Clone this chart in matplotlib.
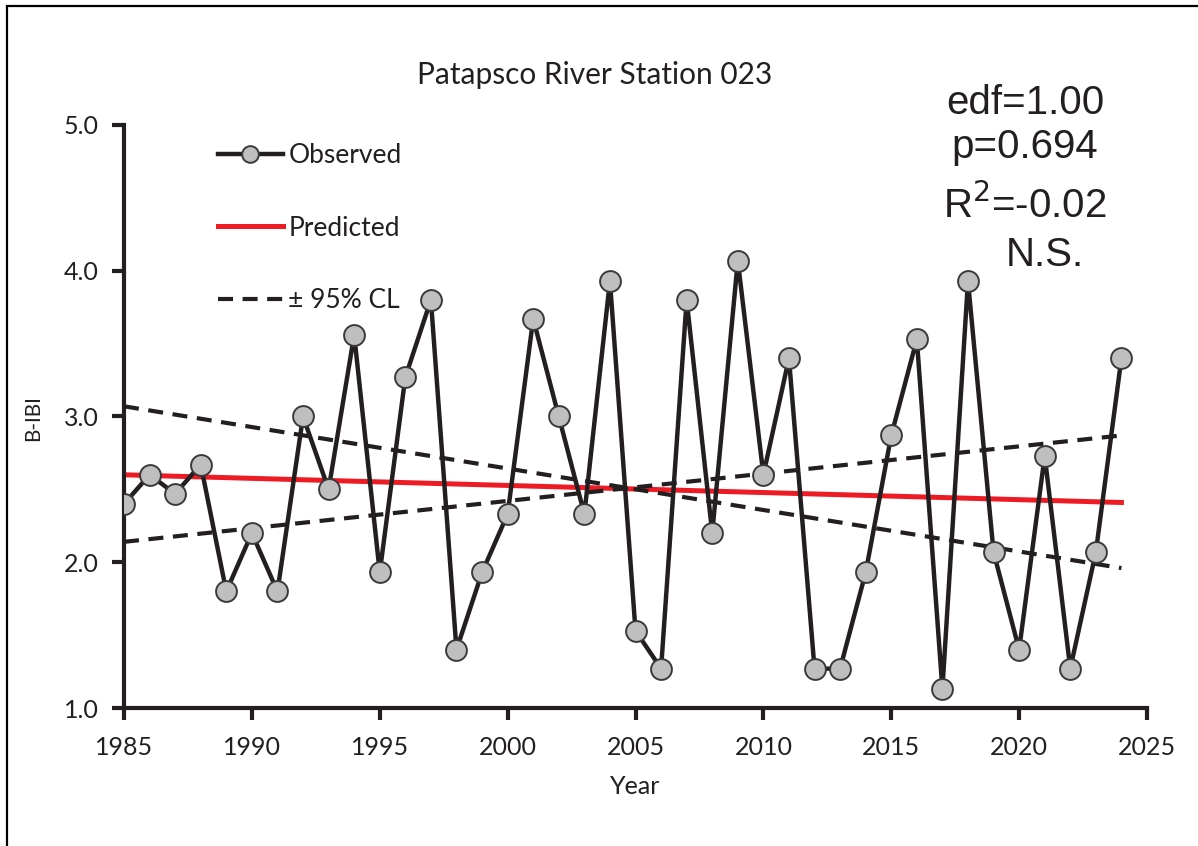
import matplotlib.pyplot as plt
from matplotlib.lines import Line2D
from matplotlib.patches import Rectangle

# B-IBI scores by sampling year
years = list(range(1985, 2025))
bibi = [2.40, 2.60, 2.47, 2.67, 1.80, 2.20, 1.80, 3.00, 2.50, 3.56,
        1.93, 3.27, 3.80, 1.40, 1.93, 2.33, 3.67, 3.00, 2.33, 3.93,
        1.53, 1.27, 3.80, 2.20, 4.07, 2.60, 3.40, 1.27, 1.27, 1.93,
        2.87, 3.53, 1.13, 3.93, 2.07, 1.40, 2.73, 1.27, 2.07, 3.40]

# fitted trend and confidence limits (end points)
fit_years = [1985, 2024]
predicted = [2.60, 2.41]
cl_upper = [3.07, 1.96]
cl_lower = [2.14, 2.87]

stats_lines = ["edf=1.00", "p=0.694", "R$^{2}$=-0.02", "N.S."]

label_font = "Lato"
stat_font = "Liberation Sans"
ink = "#231f20"
dash = (0, (3.6, 2.3))

fig = plt.figure(figsize=(11.98, 8.46), dpi=100)
ax = fig.add_axes([124 / 1198, 1 - 708 / 846, (1147 - 124) / 1198, (708 - 125) / 846])

ax.plot(years, bibi, color=ink, lw=3.2, zorder=3, solid_joinstyle="miter",
        marker="o", ms=15, mfc="#bfbfbf", mec="#3a3a3a", mew=1.4)
ax.plot(fit_years, predicted, color="#ed1c24", lw=3.6, zorder=2)
ax.plot(fit_years, cl_upper, color=ink, lw=3.0, ls=dash, zorder=2)
ax.plot(fit_years, cl_lower, color=ink, lw=3.0, ls=dash, zorder=2)

ax.set_xlim(1985, 2025)
ax.set_ylim(1.0, 5.0)
ax.set_xticks(range(1985, 2026, 5))
ax.set_yticks([1.0, 2.0, 3.0, 4.0, 5.0])
ax.set_yticklabels([f"{v:.1f}" for v in ax.get_yticks()])
for s in ["top", "right"]:
    ax.spines[s].set_visible(False)
for s in ["left", "bottom"]:
    ax.spines[s].set_linewidth(3.0)
    ax.spines[s].set_color(ink)
    ax.spines[s].set_capstyle("projecting")
ax.tick_params(direction="out", length=8.5, width=3.0, color=ink,
               labelsize=18, labelcolor=ink)
ax.tick_params(axis="x", pad=12)
ax.tick_params(axis="y", pad=9.5)
for lab in ax.get_xticklabels() + ax.get_yticklabels():
    lab.set_family(label_font)

ax.set_xlabel("Year", family=label_font, fontsize=18, color=ink, labelpad=11)
fig.text(33 / 1198, 1 - 418 / 846, "B-IBI", rotation=90, ha="center", va="center",
         family=label_font, fontsize=15, color=ink)
fig.text(595 / 1198, 1 - 75 / 846, "Patapsco River Station 023", ha="center", va="center",
         family=label_font, fontsize=21.5, color=ink)

# legend in the upper left of the plot
handles = [
    Line2D([], [], color=ink, lw=3.2, marker="o", ms=12, mfc="#bfbfbf", mec="#3a3a3a", mew=1.4),
    Line2D([], [], color="#ed1c24", lw=3.6),
    Line2D([], [], color=ink, lw=3.0, ls=dash),
]
leg = ax.legend(handles, ["Observed", "Predicted", "\u00b1 95% CL"], loc="upper left",
                bbox_to_anchor=((218 - 124) / 1023, 0.969), frameon=False,
                borderpad=0, borderaxespad=0, handlelength=2.45,
                handletextpad=0.22, labelspacing=1.8,
                prop={"family": label_font, "size": 19})
for t in leg.get_texts():
    t.set_color(ink)

ys = [103, 147, 205, 255]
xs = [1025, 1025, 1025, 1045]
for txt, x, y in zip(stats_lines, xs, ys):
    fig.text(x / 1198, 1 - y / 846, txt, ha="center", va="center",
             family=stat_font, fontsize=29, color=ink)

# outer frame (runs off the right and bottom edge)
fig.patches.append(Rectangle((7 / 1198, -0.1), 1.2, 0.1 + (846 - 6) / 846,
                             transform=fig.transFigure, fill=False,
                             lw=1.6, ec="black", clip_on=False))

fig.savefig("out.png", dpi=100)
